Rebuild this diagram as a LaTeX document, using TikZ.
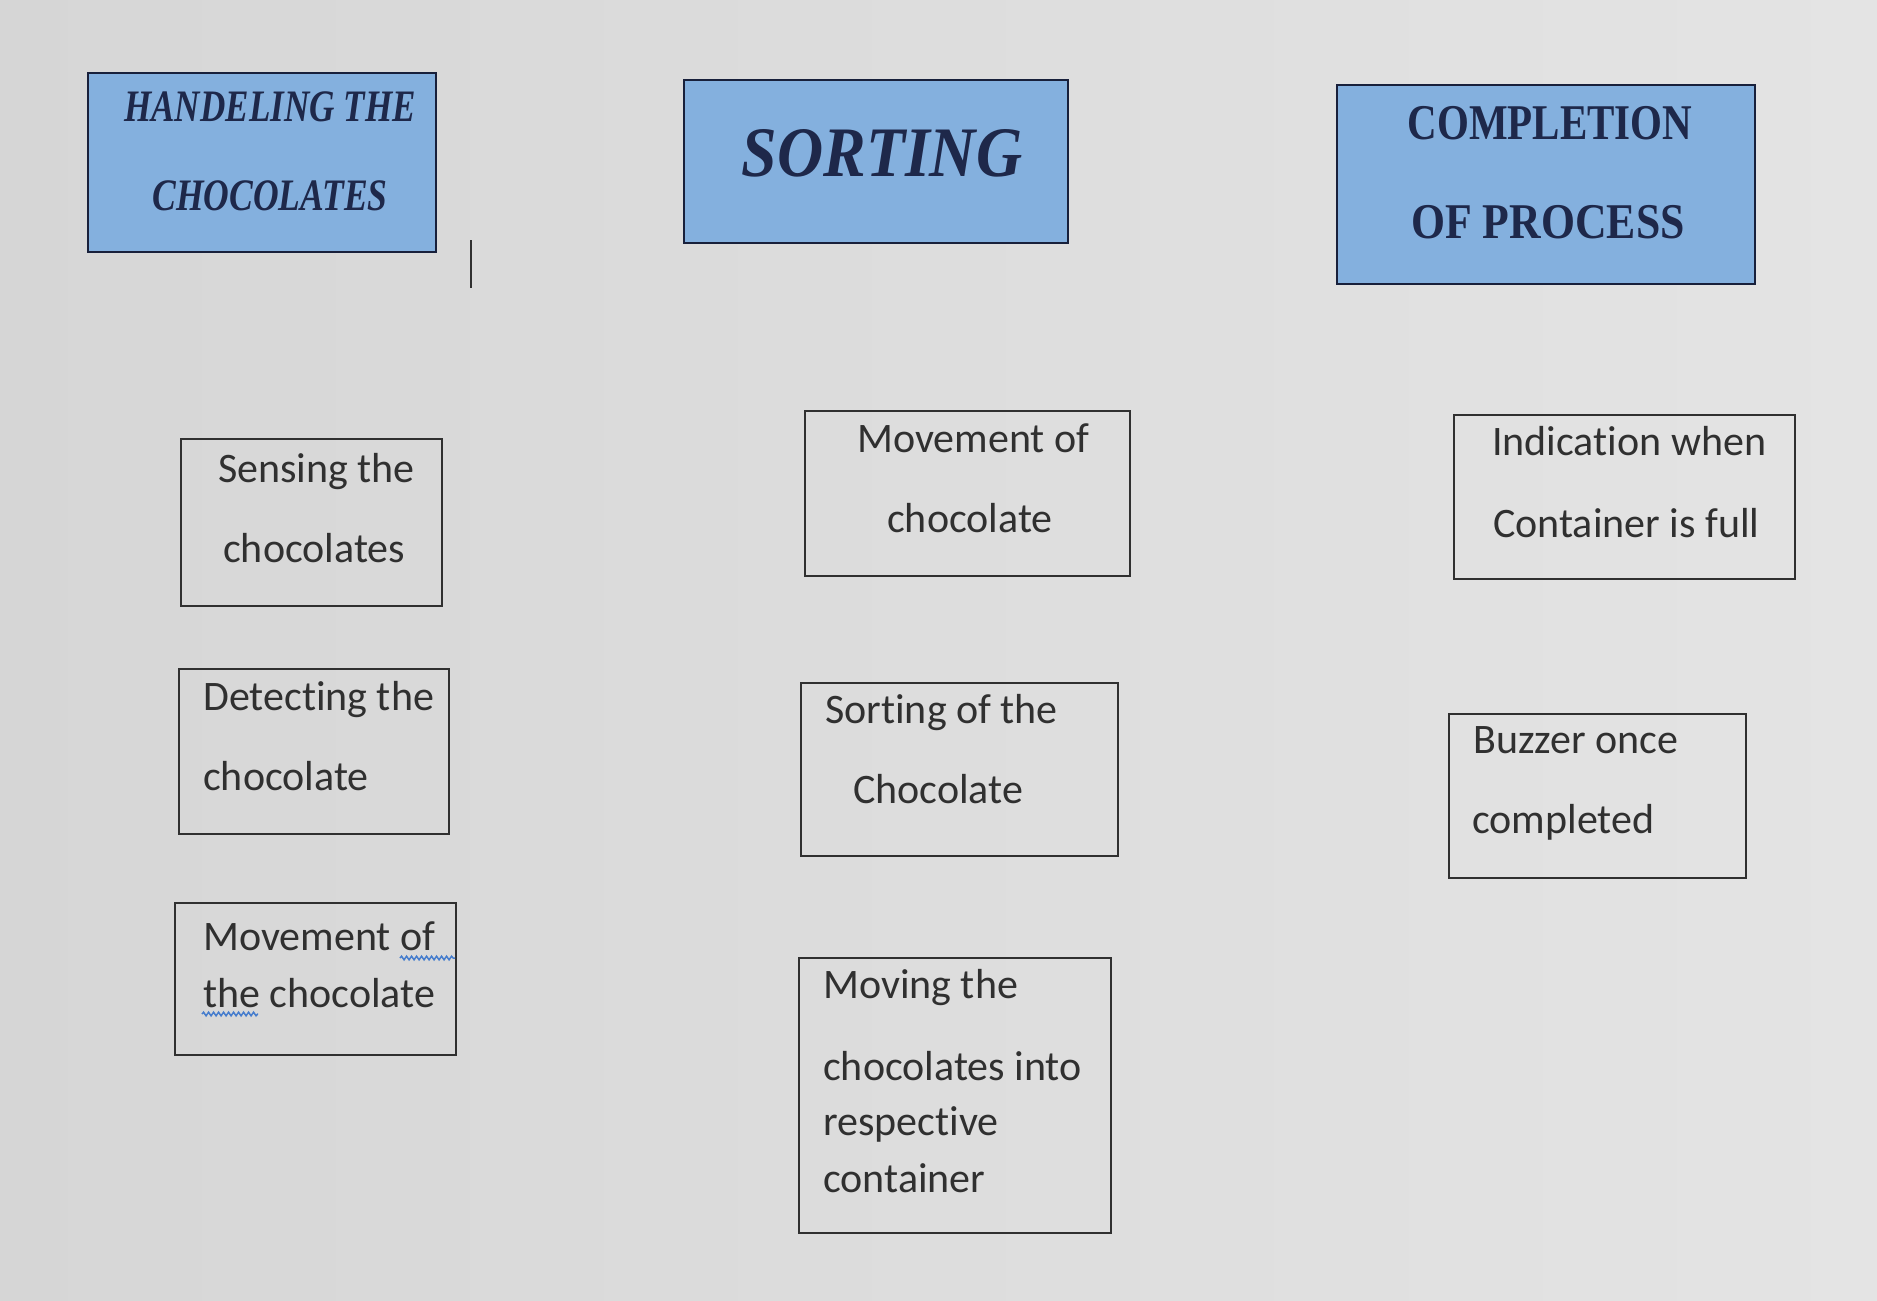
\documentclass[tikz,border=0pt]{standalone}
\usepackage{fontspec}
\setmainfont{Carlito}[RawFeature={-liga;-clig;-dlig}]
\newfontfamily\headfont{Liberation Serif}
\usetikzlibrary{decorations.pathmorphing}
\definecolor{paper}{RGB}{214,214,214}
\definecolor{paperlight}{RGB}{228,228,228}
\definecolor{headblue}{RGB}{132,176,222}
\definecolor{headink}{RGB}{30,40,74}
\definecolor{boxline}{RGB}{48,48,48}
\definecolor{bodyink}{RGB}{48,48,48}
\definecolor{squiggle}{RGB}{70,125,205}
\begin{document}
\begin{tikzpicture}[x=1pt, y=-1pt,
    headbox/.style={draw=headink!80!black, line width=2pt, fill=headblue, anchor=north west, inner sep=0pt},
    bodybox/.style={draw=boxline, line width=2pt, anchor=north west, inner sep=0pt},
    headtxt/.style={text=headink, inner sep=0pt, anchor=center},
    bodytxt/.style={text=bodyink, inner sep=0pt, anchor=base west, font=\fontsize{42}{50}\selectfont},
    spellmark/.style={draw=squiggle, line width=1.5pt, decorate,
      decoration={snake, amplitude=1.8pt, segment length=5pt}}]
  % page of the photographed screen
  \useasboundingbox (0,0) rectangle (1877,1301);
  \shade[left color=paper, right color=paperlight] (0,0) rectangle (1877,1301);

  % column headings
  \node[headbox, minimum width=348, minimum height=179] (handle) at (87,72) {};
  \node[headtxt] (handle1) at (270,107) {\headfont\bfseries\itshape\fontsize{45}{50}\selectfont\scalebox{0.78}[1]{HANDELING THE}};
  \node[headtxt] (handle2) at (270,196) {\headfont\bfseries\itshape\fontsize{45}{50}\selectfont\scalebox{0.79}[1]{CHOCOLATES}};

  \node[headbox, minimum width=384, minimum height=163] (sort) at (683,79) {};
  \node[headtxt] (sort1) at (882,153) {\headfont\bfseries\itshape\fontsize{71}{80}\selectfont\scalebox{0.9}[1]{SORTING}};

  \node[headbox, minimum width=418, minimum height=199] (done) at (1336,84) {};
  \node[headtxt] (done1) at (1550,123) {\headfont\bfseries\fontsize{50}{56}\selectfont\scalebox{0.82}[1]{COMPLETION}};
  \node[headtxt] (done2) at (1548,222) {\headfont\bfseries\fontsize{50}{56}\selectfont\scalebox{0.875}[1]{OF PROCESS}};

  % text cursor left on the screen
  \coordinate (cursortop) at (471,240);
  \coordinate (cursorbot) at (471,288);
  \draw[boxline, line width=2pt] (cursortop) -- (cursorbot);

  % first column
  \node[bodybox, minimum width=261, minimum height=167] (sense) at (180,438) {};
  \node[bodytxt] (sense1) at (218,482) {Sensing the};
  \node[bodytxt] (sense2) at (223,562) {chocolates};

  \node[bodybox, minimum width=270, minimum height=165] (detect) at (178,668) {};
  \node[bodytxt] (detect1) at (203,710) {Detecting the};
  \node[bodytxt] (detect2) at (203,790) {chocolate};

  \node[bodybox, minimum width=281, minimum height=152] (move) at (174,902) {};
  \node[bodytxt] (move1) at (203,950) {Movement of};
  \node[bodytxt] (move2) at (203,1007) {the chocolate};
  \coordinate (ofA) at (400,958);
  \coordinate (ofB) at (455,958);
  \coordinate (theA) at (202,1014);
  \coordinate (theB) at (258,1014);
  \draw[spellmark] (ofA) -- (ofB);
  \draw[spellmark] (theA) -- (theB);

  % second column
  \node[bodybox, minimum width=325, minimum height=165] (carry) at (804,410) {};
  \node[bodytxt] (carry1) at (857,452) {Movement of};
  \node[bodytxt] (carry2) at (887,532) {chocolate};

  \node[bodybox, minimum width=317, minimum height=173] (order) at (800,682) {};
  \node[bodytxt] (order1) at (825,723) {Sorting of the};
  \node[bodytxt] (order2) at (853,803) {Chocolate};

  \node[bodybox, minimum width=312, minimum height=275] (bin) at (798,957) {};
  \node[bodytxt] (bin1) at (823,998) {Moving the};
  \node[bodytxt] (bin2) at (823,1080) {chocolates into};
  \node[bodytxt] (bin3) at (823,1135) {respective};
  \node[bodytxt] (bin4) at (823,1192) {container};

  % third column
  \node[bodybox, minimum width=341, minimum height=164] (full) at (1453,414) {};
  \node[bodytxt] (full1) at (1492,455) {Indication when};
  \node[bodytxt] (full2) at (1493,537) {Container is full};

  \node[bodybox, minimum width=297, minimum height=164] (buzz) at (1448,713) {};
  \node[bodytxt] (buzz1) at (1473,753) {Buzzer once};
  \node[bodytxt] (buzz2) at (1472,833) {completed};
\end{tikzpicture}
\end{document}
